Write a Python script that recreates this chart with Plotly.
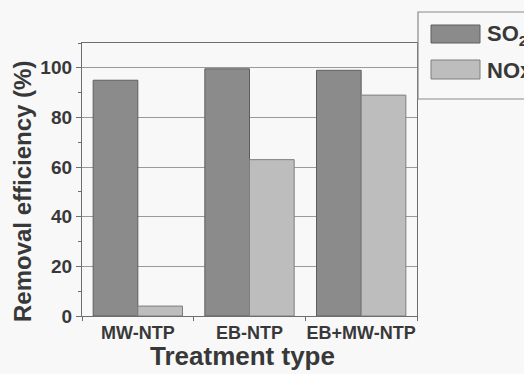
import plotly.graph_objects as go

categories = ["MW-NTP", "EB-NTP", "EB+MW-NTP"]
so2_values = [95, 99.6, 99]
nox_values = [4, 63, 89]
y_ticks = [0, 20, 40, 60, 80, 100]

FONT = "Liberation Sans, Arial, sans-serif"
TXT = "#383838"
BG = "#f8f8f8"

fig = go.Figure()
fig.add_trace(go.Bar(x=categories, y=so2_values, name="SO<sub>2</sub>",
                     marker=dict(color="#8b8b8b", line=dict(color="#5e5e5e", width=1))))
fig.add_trace(go.Bar(x=categories, y=nox_values, name="NOx",
                     marker=dict(color="#bdbdbd", line=dict(color="#7e7e7e", width=1))))

fig.update_layout(
    width=524, height=374,
    margin=dict(l=82, r=107, t=43, b=58, autoexpand=False),
    paper_bgcolor=BG, plot_bgcolor=BG,
    barmode="group", bargap=0.2, bargroupgap=0,
    showlegend=False,
    font=dict(family=FONT, color=TXT),
)
fig.update_xaxes(
    showline=True, linecolor="#6e6e6e", linewidth=1.3, mirror=True,
    ticks="outside", tickson="boundaries", ticklen=4, tickcolor="#6e6e6e",
    tickangle=0,
    tickfont=dict(size=18, family=FONT, color=TXT, weight="bold"),
    showgrid=False, automargin=False,
)
fig.update_yaxes(
    range=[0, 110], tickvals=y_ticks,
    showline=True, linecolor="#6e6e6e", linewidth=1.3, mirror=True,
    ticks="outside", ticklen=5, tickcolor="#6e6e6e",
    minor=dict(dtick=10, ticks="outside", ticklen=3, tickcolor="#6e6e6e", showgrid=False),
    tickfont=dict(size=19, family=FONT, color=TXT, weight="bold"),
    showgrid=True, gridcolor="#9a9a9a", gridwidth=1,
    zeroline=False, automargin=False,
)

def px_x(p):
    return (p - 82) / 335
def px_y(p):
    return (316 - p) / 273

# axis titles
fig.add_annotation(xref="paper", yref="paper", x=px_x(22), y=px_y(192),
                   text="<b>Removal efficiency (%)</b>", textangle=-90, showarrow=False,
                   xanchor="center", yanchor="middle",
                   font=dict(size=24, color=TXT, family=FONT))
fig.add_annotation(xref="paper", yref="paper", x=px_x(242), y=px_y(356),
                   text="<b>Treatment type</b>", showarrow=False,
                   xanchor="center", yanchor="middle",
                   font=dict(size=26, color=TXT, family=FONT))

# custom legend box
fig.add_shape(type="rect", xref="paper", yref="paper",
              x0=px_x(418), x1=px_x(540), y0=px_y(99), y1=px_y(12),
              line=dict(color="#8a8a8a", width=1.2), fillcolor=BG, layer="above")
fig.add_shape(type="rect", xref="paper", yref="paper",
              x0=px_x(431), x1=px_x(480), y0=px_y(43), y1=px_y(25),
              line=dict(color="#5e5e5e", width=1), fillcolor="#8b8b8b", layer="above")
fig.add_shape(type="rect", xref="paper", yref="paper",
              x0=px_x(431), x1=px_x(480), y0=px_y(79), y1=px_y(60),
              line=dict(color="#7e7e7e", width=1), fillcolor="#bdbdbd", layer="above")
fig.add_annotation(xref="paper", yref="paper", x=px_x(485), y=px_y(35),
                   text="<b>SO<sub>2</sub></b>", showarrow=False, xanchor="left", yanchor="middle",
                   font=dict(size=22, color=TXT, family=FONT))
fig.add_annotation(xref="paper", yref="paper", x=px_x(485), y=px_y(70),
                   text="<b>NOx</b>", showarrow=False, xanchor="left", yanchor="middle",
                   font=dict(size=22, color=TXT, family=FONT))

fig.write_html("out.html", config={"displayModeBar": False},
               post_script="document.body.style.margin='0px';document.body.style.overflow='hidden';")
